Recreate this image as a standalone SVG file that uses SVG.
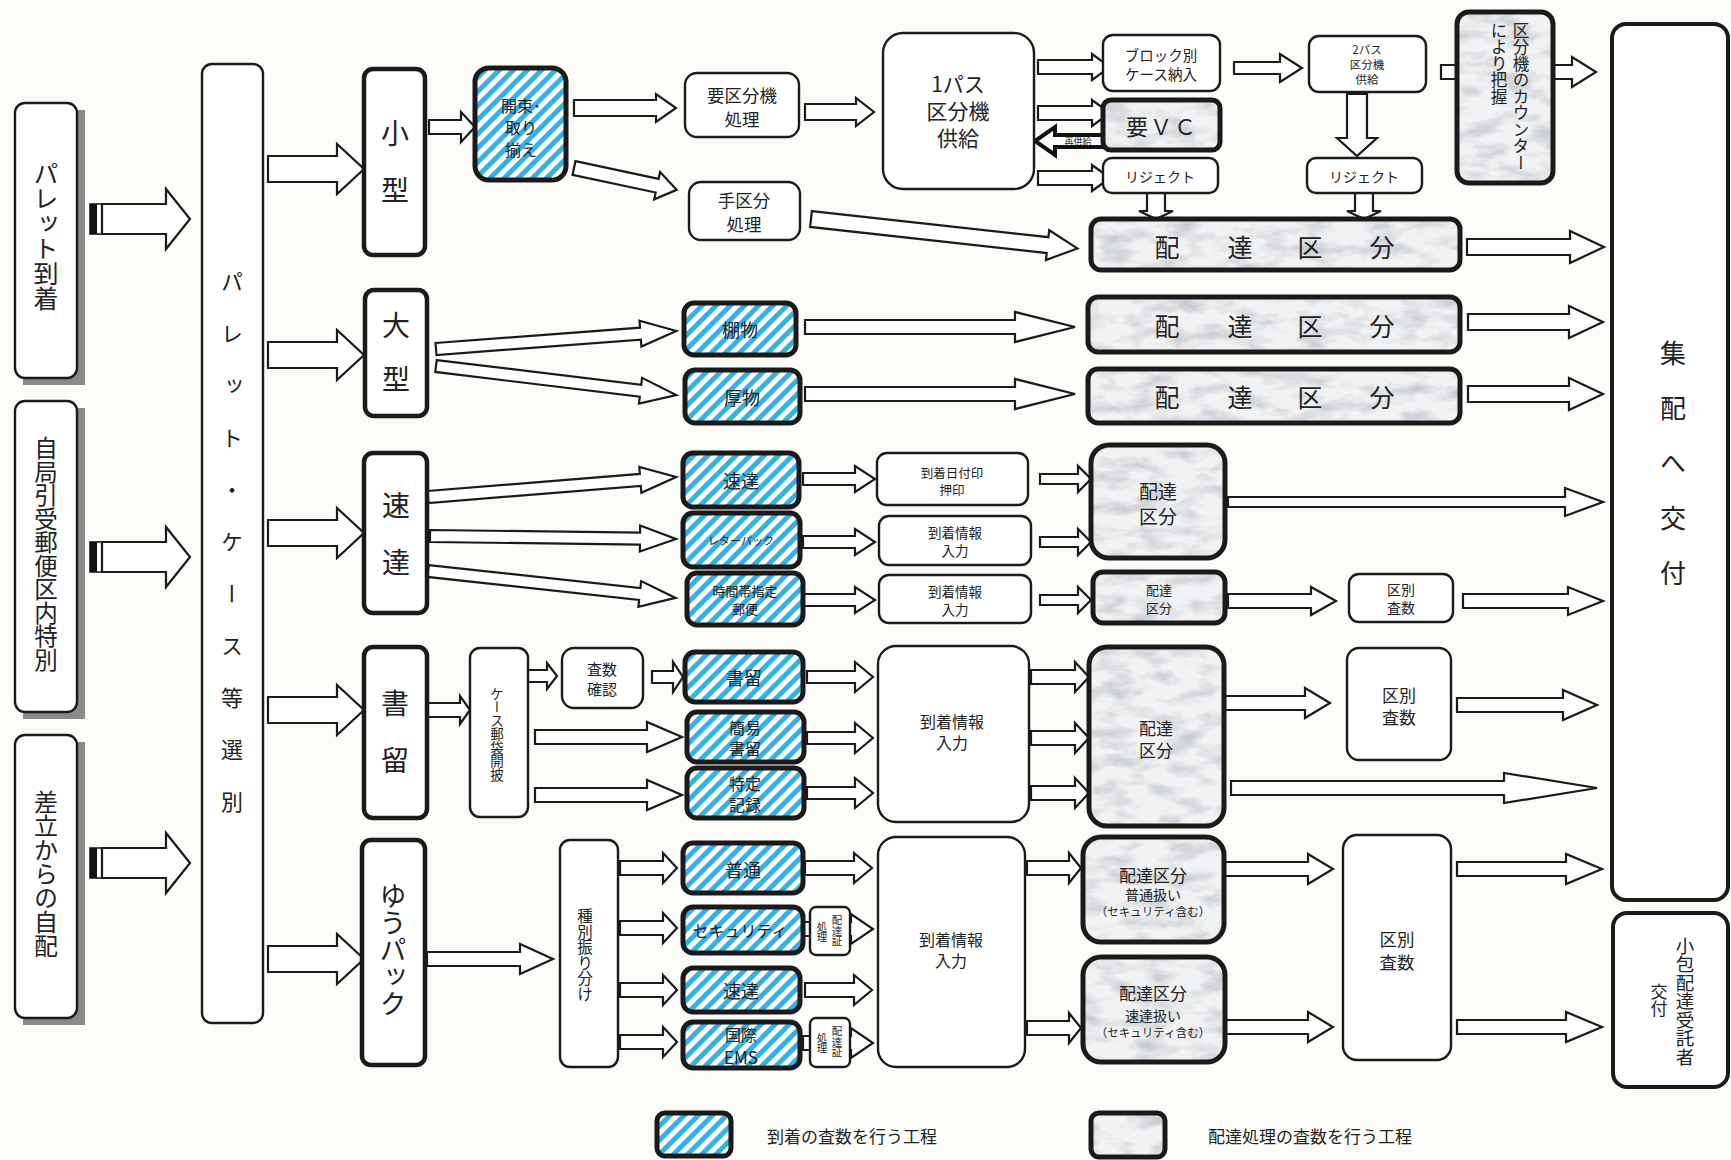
<svg xmlns="http://www.w3.org/2000/svg" width="1731" height="1160" viewBox="0 0 1731 1160">
<defs>
<pattern id="hatch" patternUnits="userSpaceOnUse" width="10" height="10" patternTransform="rotate(45)">
<rect width="10" height="10" fill="#ffffff"/>
<rect width="5" height="10" fill="#35b1e4"/>
</pattern>
<filter id="mb" x="0%" y="0%" width="100%" height="100%" color-interpolation-filters="sRGB">
<feTurbulence type="fractalNoise" baseFrequency="0.03 0.07" numOctaves="4" seed="5" result="n"/>
<feColorMatrix in="n" type="matrix" values="0 0 0 0 0.6  0 0 0 0 0.62  0 0 0 0 0.66  1.1 0 0 0 -0.47" result="c"/>
<feComposite in="c" in2="SourceGraphic" operator="in" result="t"/>
<feMerge><feMergeNode in="SourceGraphic"/><feMergeNode in="t"/></feMerge>
</filter>
<style>
.a{fill:#fff;stroke:#1a1a1a;stroke-width:2.2;stroke-linejoin:miter}
.ab{fill:#fff;stroke:#111;stroke-width:4;stroke-linejoin:miter}
.t{fill:#fff;stroke:#1a1a1a;stroke-width:2.4}
.k{fill:#fff;stroke:#1a1a1a;stroke-width:4.5}
.h{fill:url(#hatch);stroke:#1a1a1a;stroke-width:5}
.mf{fill:#f1f2f3;filter:url(#mb)}
.ms{fill:none;stroke:#1a1a1a;stroke-width:5}
.sh{fill:#8a8a8a}
text{font-family:"Noto Sans CJK JP","Noto Sans",sans-serif;fill:#222;text-anchor:middle;dominant-baseline:central}
.v{writing-mode:vertical-rl}
.s{text-anchor:start}
</style>
</defs>
<rect width="1731" height="1160" fill="#fbfbf7"/>

<g id="connectors">
<rect x="90" y="204" width="12" height="30" fill="#fff" stroke="#111" stroke-width="1.5"/><rect x="90" y="204" width="7" height="30" fill="#111"/>
<polygon class="a" points="102,204 166,204 166,189 190,219 166,249 166,234 102,234"/>
<rect x="90" y="542" width="12" height="30" fill="#fff" stroke="#111" stroke-width="1.5"/><rect x="90" y="542" width="7" height="30" fill="#111"/>
<polygon class="a" points="102,542 166,542 166,527 190,557 166,587 166,572 102,572"/>
<rect x="90" y="848" width="12" height="30" fill="#fff" stroke="#111" stroke-width="1.5"/><rect x="90" y="848" width="7" height="30" fill="#111"/>
<polygon class="a" points="102,848 166,848 166,833 190,863 166,893 166,878 102,878"/>
<polygon class="a" points="268,156 337,156 337,144 364,169 337,194 337,182 268,182"/>
<polygon class="a" points="268,342 337,342 337,330 364,355 337,380 337,368 268,368"/>
<polygon class="a" points="268,520 337,520 337,508 364,533 337,558 337,546 268,546"/>
<polygon class="a" points="268,697 337,697 337,685 364,710 337,735 337,723 268,723"/>
<polygon class="a" points="268,946 337,946 337,934 364,959 337,984 337,972 268,972"/>
<polygon class="a" points="429,120 461,120 461,112 475,127 461,142 461,134 429,134"/>
<polygon class="a" points="574,100 656,100 656,94 676,108 656,122 656,116 574,116"/>
<polygon class="a" transform="rotate(12 574 168)" points="574,161 659,161 659,154 679,168 659,182 659,175 574,175"/>
<polygon class="a" points="805,104 856,104 856,98 874,112 856,126 856,120 805,120"/>
<polygon class="a" points="1038,60 1092,60 1092,54 1110,67 1092,80 1092,74 1038,74"/>
<polygon class="a" points="1038,106 1092,106 1092,100 1110,113 1092,126 1092,120 1038,120"/>
<polygon class="ab" points="1108,135 1055,135 1055,127 1035,141 1055,155 1055,147 1108,147"/>
<text x="1078" y="141" style="font-size:9px">再供給</text>
<polygon class="a" points="1038,171 1092,171 1092,165 1110,178 1092,191 1092,185 1038,185"/>
<polygon class="a" points="1234,62 1280,62 1280,54 1302,68 1280,82 1280,74 1234,74"/>
<polygon class="a" points="1347,94 1347,138 1337,138 1357,156 1377,138 1367,138 1367,94"/>
<polygon class="a" points="1147,193 1147,211 1139,211 1156,219 1173,211 1165,211 1165,193"/>
<polygon class="a" points="1355,193 1355,211 1347,211 1364,219 1381,211 1373,211 1373,193"/>
<polygon class="a" points="1441,65 1572,65 1572,57 1596,72 1572,87 1572,79 1441,79"/>
<polygon class="a" transform="rotate(6.3 811 219)" points="811,211 1049,211 1049,204 1079,219 1049,234 1049,227 811,227"/>
<polygon class="a" points="1467,239 1570,239 1570,231 1604,247 1570,263 1570,255 1467,255"/>
<polygon class="a" transform="rotate(-4.3 436 349)" points="436,343 641,343 641,336 677,349 641,362 641,355 436,355"/>
<polygon class="a" transform="rotate(6.9 436 366)" points="436,360 642,360 642,353 678,366 642,379 642,372 436,372"/>
<polygon class="a" points="805,320 1015,320 1015,312 1075,327 1015,342 1015,334 805,334"/>
<polygon class="a" points="805,387 1015,387 1015,379 1075,394 1015,409 1015,401 805,401"/>
<polygon class="a" points="1468,314 1569,314 1569,306 1603,322 1569,338 1569,330 1468,330"/>
<polygon class="a" points="1468,386 1569,386 1569,378 1603,394 1569,410 1569,402 1468,402"/>
<polygon class="a" transform="rotate(-4.6 428 497)" points="428,491 641,491 641,484 677,497 641,510 641,503 428,503"/>
<polygon class="a" transform="rotate(0.7 430 536)" points="430,530 640,530 640,523 676,536 640,549 640,542 430,542"/>
<polygon class="a" transform="rotate(6.2 428 571)" points="428,565 641,565 641,558 677,571 641,584 641,577 428,577"/>
<polygon class="a" points="803,473 855,473 855,466 875,479 855,492 855,485 803,485"/>
<polygon class="a" points="803,536 855,536 855,529 875,542 855,555 855,548 803,548"/>
<polygon class="a" points="803,594 855,594 855,587 875,600 855,613 855,606 803,606"/>
<polygon class="a" points="1040,474 1078,474 1078,466 1091,479 1078,492 1078,484 1040,484"/>
<polygon class="a" points="1040,537 1078,537 1078,529 1091,542 1078,555 1078,547 1040,547"/>
<polygon class="a" points="1040,595 1078,595 1078,587 1091,600 1078,613 1078,605 1040,605"/>
<polygon class="a" points="1228,497 1565,497 1565,488 1603,502 1565,516 1565,507 1228,507"/>
<polygon class="a" points="1228,594 1311,594 1311,587 1336,601 1311,615 1311,608 1228,608"/>
<polygon class="a" points="1463,594 1568,594 1568,587 1603,601 1568,615 1568,608 1463,608"/>
<polygon class="a" points="427,703 460,703 460,696 470,710 460,724 460,717 427,717"/>
<polygon class="a" points="522,670 547,670 547,663 557,676 547,689 547,682 522,682"/>
<polygon class="a" points="652,671 673,671 673,662 683,677 673,692 673,683 652,683"/>
<polygon class="a" points="535,730 647,730 647,722 682,737 647,752 647,744 535,744"/>
<polygon class="a" points="535,788 647,788 647,780 682,795 647,810 647,802 535,802"/>
<polygon class="a" points="807,671 855,671 855,662 873,677 855,692 855,683 807,683"/>
<polygon class="a" points="807,732 855,732 855,723 873,738 855,753 855,744 807,744"/>
<polygon class="a" points="807,787 855,787 855,778 873,793 855,808 855,799 807,799"/>
<polygon class="a" points="1031,670 1075,670 1075,662 1089,677 1075,692 1075,684 1031,684"/>
<polygon class="a" points="1031,731 1075,731 1075,723 1089,738 1075,753 1075,745 1031,745"/>
<polygon class="a" points="1031,786 1075,786 1075,778 1089,793 1075,808 1075,800 1031,800"/>
<polygon class="a" points="1225,696 1305,696 1305,688 1330,703 1305,718 1305,710 1225,710"/>
<polygon class="a" points="1457,698 1563,698 1563,690 1597,705 1563,720 1563,712 1457,712"/>
<polygon class="a" points="1231,781 1504,781 1504,773 1597,788 1504,803 1504,795 1231,795"/>
<polygon class="a" points="427,952 520,952 520,944 553,959 520,974 520,966 427,966"/>
<polygon class="a" points="620,861 663,861 663,853 677,868 663,883 663,875 620,875"/>
<polygon class="a" points="620,921 663,921 663,913 677,928 663,943 663,935 620,935"/>
<polygon class="a" points="620,983 663,983 663,975 677,990 663,1005 663,997 620,997"/>
<polygon class="a" points="620,1035 663,1035 663,1027 677,1042 663,1057 663,1049 620,1049"/>
<polygon class="a" points="805,861 854,861 854,853 872,868 854,883 854,875 805,875"/>
<polygon class="a" points="803,922 851,922 851,914 873,929 851,944 851,936 803,936"/>
<polygon class="a" points="805,983 854,983 854,975 872,990 854,1005 854,997 805,997"/>
<polygon class="a" points="803,1036 851,1036 851,1028 873,1043 851,1058 851,1050 803,1050"/>
<polygon class="a" points="1027,861 1069,861 1069,853 1081,868 1069,883 1069,875 1027,875"/>
<polygon class="a" points="1027,1021 1069,1021 1069,1013 1081,1028 1069,1043 1069,1035 1027,1035"/>
<polygon class="a" points="1225,862 1308,862 1308,854 1333,869 1308,884 1308,876 1225,876"/>
<polygon class="a" points="1225,1020 1308,1020 1308,1012 1333,1027 1308,1042 1308,1034 1225,1034"/>
<polygon class="a" points="1457,862 1566,862 1566,854 1602,869 1566,884 1566,876 1457,876"/>
<polygon class="a" points="1457,1020 1566,1020 1566,1012 1602,1027 1566,1042 1566,1034 1457,1034"/>
</g>

<g id="pallet-arrival"><rect class="sh" x="23" y="110" width="62" height="275"/><rect class="t" x="15" y="103" width="62" height="275" rx="10"/><text class="v" x="46" y="236" style="font-size:25px">パレット到着</text></g>
<g id="own-office"><rect class="sh" x="23" y="408" width="62" height="311"/><rect class="t" x="15" y="401" width="62" height="311" rx="10"/><text class="v" x="46" y="554" style="font-size:23.5px">自局引受郵便区内特別</text></g>
<g id="self-delivery"><rect class="sh" x="23" y="742" width="62" height="283"/><rect class="t" x="15" y="735" width="62" height="283" rx="10"/><text class="v" x="46" y="874" style="font-size:24px">差立からの自配</text></g>
<g id="sort-select"><rect class="t" x="202" y="64" width="61" height="959" rx="10"/><text class="v" x="232" y="557" style="font-size:22px;letter-spacing:30px">パレット・ケース等選別</text></g>

<g id="small"><rect class="k" x="364" y="69" width="61" height="186" rx="9"/><text class="v" x="395" y="176" style="font-size:28px;letter-spacing:29px">小型</text></g>
<g id="large"><rect class="k" x="365" y="290" width="62" height="126" rx="9"/><text class="v" x="396" y="365" style="font-size:28px;letter-spacing:26px">大型</text></g>
<g id="express"><rect class="k" x="364" y="453" width="63" height="160" rx="9"/><text class="v" x="396" y="548" style="font-size:28px;letter-spacing:29px">速達</text></g>
<g id="registered"><rect class="k" x="364" y="647" width="63" height="171" rx="9"/><text class="v" x="395" y="746" style="font-size:28px;letter-spacing:29px">書留</text></g>
<g id="yupack"><rect class="k" x="362" y="840" width="63" height="225" rx="9"/><text class="v" x="393" y="950" style="font-size:27px">ゆうパック</text></g>

<g id="unbundle"><rect class="h" x="475" y="68" width="91" height="112" rx="14"/><text x="521" y="105" style="font-size:16px">開束･</text><text x="521" y="127" style="font-size:16px">取り</text><text x="521" y="149" style="font-size:16px">揃え</text></g>
<g id="machine-need"><rect class="t" x="685" y="73" width="114" height="64" rx="12"/><text x="742" y="94" style="font-size:17.5px">要区分機</text><text x="742" y="118" style="font-size:17.5px">処理</text></g>
<g id="manual"><rect class="t" x="689" y="182" width="111" height="58" rx="12"/><text x="744" y="199" style="font-size:17.5px">手区分</text><text x="744" y="223" style="font-size:17.5px">処理</text></g>
<g id="pass1"><rect class="t" x="883" y="33" width="151" height="156" rx="20"/><text x="958" y="83" style="font-size:21px">1パス</text><text x="958" y="110" style="font-size:21px">区分機</text><text x="958" y="137" style="font-size:21px">供給</text></g>
<g id="block-case"><rect class="t" x="1103" y="35" width="117" height="56" rx="10"/><text x="1161" y="54" style="font-size:14.5px">ブロック別</text><text x="1161" y="73" style="font-size:14.5px">ケース納入</text></g>
<g id="need-vc"><rect class="mf" x="1103" y="100" width="117" height="50" rx="8"/><rect class="ms" x="1103" y="100" width="117" height="50" rx="8"/><text x="1162" y="125" style="font-size:22px;letter-spacing:2px">要ＶＣ</text></g>
<g id="reject1"><rect class="t" x="1103" y="158" width="115" height="35" rx="9"/><text x="1160" y="176" style="font-size:14px">リジェクト</text></g>
<g id="pass2"><rect class="t" x="1309" y="36" width="117" height="56" rx="10"/><text x="1367" y="49" style="font-size:11.5px">2パス</text><text x="1367" y="64" style="font-size:11.5px">区分機</text><text x="1367" y="79" style="font-size:11.5px">供給</text></g>
<g id="reject2"><rect class="t" x="1307" y="158" width="115" height="35" rx="9"/><text x="1364" y="176" style="font-size:14px">リジェクト</text></g>
<g id="counter"><rect class="mf" x="1457" y="12" width="96" height="171" rx="12"/><rect class="ms" x="1457" y="12" width="96" height="171" rx="12"/><text class="v s" x="1521" y="22" style="font-size:16.5px">区分機のカウンター</text><text class="v s" x="1499" y="22" style="font-size:16.5px">により把握</text></g>
<g id="deliv1"><rect class="mf" x="1091" y="219" width="369" height="51" rx="10"/><rect class="ms" x="1091" y="219" width="369" height="51" rx="10"/><text x="1167 1240 1310 1382" y="246" style="font-size:25px">配達区分</text></g>

<g id="shelf"><rect class="h" x="684" y="303" width="112" height="52" rx="10"/><text x="740" y="329" style="font-size:18px">棚物</text></g>
<g id="thick"><rect class="h" x="685" y="370" width="115" height="53" rx="10"/><text x="742" y="397" style="font-size:18px">厚物</text></g>
<g id="deliv2"><rect class="mf" x="1088" y="297" width="372" height="55" rx="10"/><rect class="ms" x="1088" y="297" width="372" height="55" rx="10"/><text x="1167 1240 1310 1382" y="325" style="font-size:25px">配達区分</text></g>
<g id="deliv3"><rect class="mf" x="1088" y="369" width="372" height="54" rx="10"/><rect class="ms" x="1088" y="369" width="372" height="54" rx="10"/><text x="1167 1240 1310 1382" y="396" style="font-size:25px">配達区分</text></g>

<g id="sokutatsu"><rect class="h" x="683" y="453" width="116" height="54" rx="10"/><text x="741" y="480" style="font-size:18px">速達</text></g>
<g id="letterpack"><rect class="h" x="683" y="513" width="117" height="54" rx="10"/><text x="741" y="540" style="font-size:11px">レターパック</text></g>
<g id="timeslot"><rect class="h" x="687" y="573" width="116" height="52" rx="10"/><text x="745" y="590" style="font-size:13px">時間帯指定</text><text x="745" y="608" style="font-size:13px">郵便</text></g>
<g id="datestamp"><rect class="t" x="877" y="453" width="151" height="52" rx="10"/><text x="952" y="472" style="font-size:12.5px">到着日付印</text><text x="952" y="489" style="font-size:12.5px">押印</text></g>
<g id="arrinfo1"><rect class="t" x="879" y="516" width="152" height="49" rx="10"/><text x="955" y="532" style="font-size:13.5px">到着情報</text><text x="955" y="550" style="font-size:13.5px">入力</text></g>
<g id="arrinfo2"><rect class="t" x="879" y="575" width="152" height="48" rx="10"/><text x="955" y="591" style="font-size:13.5px">到着情報</text><text x="955" y="609" style="font-size:13.5px">入力</text></g>
<g id="deliv4"><rect class="mf" x="1091" y="445" width="134" height="113" rx="18"/><rect class="ms" x="1091" y="445" width="134" height="113" rx="18"/><text x="1158" y="490" style="font-size:19px">配達</text><text x="1158" y="515" style="font-size:19px">区分</text></g>
<g id="deliv5"><rect class="mf" x="1093" y="572" width="132" height="51" rx="10"/><rect class="ms" x="1093" y="572" width="132" height="51" rx="10"/><text x="1159" y="589" style="font-size:13px">配達</text><text x="1159" y="607" style="font-size:13px">区分</text></g>
<g id="count1"><rect class="t" x="1349" y="574" width="104" height="48" rx="10"/><text x="1401" y="589" style="font-size:14px">区別</text><text x="1401" y="607" style="font-size:14px">査数</text></g>

<g id="case-open"><rect class="t" x="470" y="648" width="58" height="169" rx="10"/><text class="v" x="497" y="734" style="font-size:13.5px">ケース郵袋開披</text></g>
<g id="count-check"><rect class="t" x="562" y="648" width="81" height="60" rx="12"/><text x="602" y="668" style="font-size:15px">査数</text><text x="602" y="688" style="font-size:15px">確認</text></g>
<g id="kakitome"><rect class="h" x="685" y="652" width="118" height="50" rx="10"/><text x="744" y="677" style="font-size:18px">書留</text></g>
<g id="kanni"><rect class="h" x="687" y="712" width="117" height="50" rx="10"/><text x="745" y="727" style="font-size:16px">簡易</text><text x="745" y="748" style="font-size:16px">書留</text></g>
<g id="tokutei"><rect class="h" x="687" y="768" width="117" height="50" rx="10"/><text x="745" y="783" style="font-size:16px">特定</text><text x="745" y="804" style="font-size:16px">記録</text></g>
<g id="arrinfo3"><rect class="t" x="878" y="646" width="151" height="176" rx="18"/><text x="952" y="721" style="font-size:16px">到着情報</text><text x="952" y="742" style="font-size:16px">入力</text></g>
<g id="deliv6"><rect class="mf" x="1089" y="647" width="135" height="179" rx="18"/><rect class="ms" x="1089" y="647" width="135" height="179" rx="18"/><text x="1156" y="727" style="font-size:17px">配達</text><text x="1156" y="749" style="font-size:17px">区分</text></g>
<g id="count2"><rect class="t" x="1347" y="648" width="104" height="112" rx="12"/><text x="1399" y="694" style="font-size:17px">区別</text><text x="1399" y="716" style="font-size:17px">査数</text></g>

<g id="type-split"><rect class="t" x="560" y="840" width="58" height="227" rx="10"/><text class="v" x="585" y="955" style="font-size:15.5px">種別振り分け</text></g>
<g id="futsu"><rect class="h" x="683" y="843" width="120" height="50" rx="10"/><text x="743" y="869" style="font-size:18px">普通</text></g>
<g id="security"><rect class="h" x="683" y="907" width="120" height="46" rx="10"/><text x="740" y="930" style="font-size:16px">セキュリティ</text></g>
<g id="yu-sokutatsu"><rect class="h" x="683" y="968" width="117" height="44" rx="10"/><text x="741" y="990" style="font-size:18px">速達</text></g>
<g id="ems"><rect class="h" x="683" y="1022" width="117" height="46" rx="10"/><text x="741" y="1034" style="font-size:16px">国際</text><text x="741" y="1056" style="font-size:17px">EMS</text></g>
<g id="cert1"><rect class="t" x="810" y="907" width="40" height="48" rx="6"/><text class="v" x="837" y="931" style="font-size:10.5px">配達証</text><text class="v" x="822" y="932" style="font-size:10.5px">処理</text></g>
<g id="cert2"><rect class="t" x="810" y="1018" width="40" height="49" rx="6"/><text class="v" x="837" y="1042" style="font-size:10.5px">配達証</text><text class="v" x="822" y="1043" style="font-size:10.5px">処理</text></g>
<g id="arrinfo4"><rect class="t" x="878" y="837" width="147" height="230" rx="18"/><text x="951" y="939" style="font-size:16px">到着情報</text><text x="951" y="960" style="font-size:16px">入力</text></g>
<g id="deliv-normal"><rect class="mf" x="1083" y="837" width="141" height="105" rx="18"/><rect class="ms" x="1083" y="837" width="141" height="105" rx="18"/><text x="1153" y="874" style="font-size:17px">配達区分</text><text x="1153" y="894" style="font-size:14px">普通扱い</text><text x="1153" y="911" style="font-size:11.5px">（セキュリティ含む）</text></g>
<g id="deliv-express"><rect class="mf" x="1083" y="957" width="142" height="105" rx="18"/><rect class="ms" x="1083" y="957" width="142" height="105" rx="18"/><text x="1153" y="992" style="font-size:17px">配達区分</text><text x="1153" y="1015" style="font-size:14px">速達扱い</text><text x="1153" y="1032" style="font-size:11.5px">（セキュリティ含む）</text></g>
<g id="count3"><rect class="t" x="1343" y="835" width="108" height="225" rx="14"/><text x="1397" y="938" style="font-size:17.5px">区別</text><text x="1397" y="961" style="font-size:17.5px">査数</text></g>

<g id="handover"><rect class="t" x="1612" y="24" width="116" height="876" rx="14" style="stroke-width:4"/><text class="v" x="1673" y="478" style="font-size:26px;letter-spacing:29px">集配へ交付</text></g>
<g id="contractor"><rect class="t" x="1613" y="913" width="115" height="174" rx="14" style="stroke-width:4"/><text class="v" x="1685" y="1001" style="font-size:18.5px">小包配達受託者</text><text class="v" x="1659" y="1000" style="font-size:17px">交付</text></g>

<g id="legend">
<rect class="h" x="657" y="1113" width="74" height="43" rx="8"/>
<text class="s" x="767" y="1135" style="font-size:17px">到着の査数を行う工程</text>
<rect class="mf" x="1091" y="1113" width="74" height="44" rx="8"/><rect class="ms" x="1091" y="1113" width="74" height="44" rx="8"/>
<text class="s" x="1208" y="1135" style="font-size:17px">配達処理の査数を行う工程</text>
</g>
</svg>
